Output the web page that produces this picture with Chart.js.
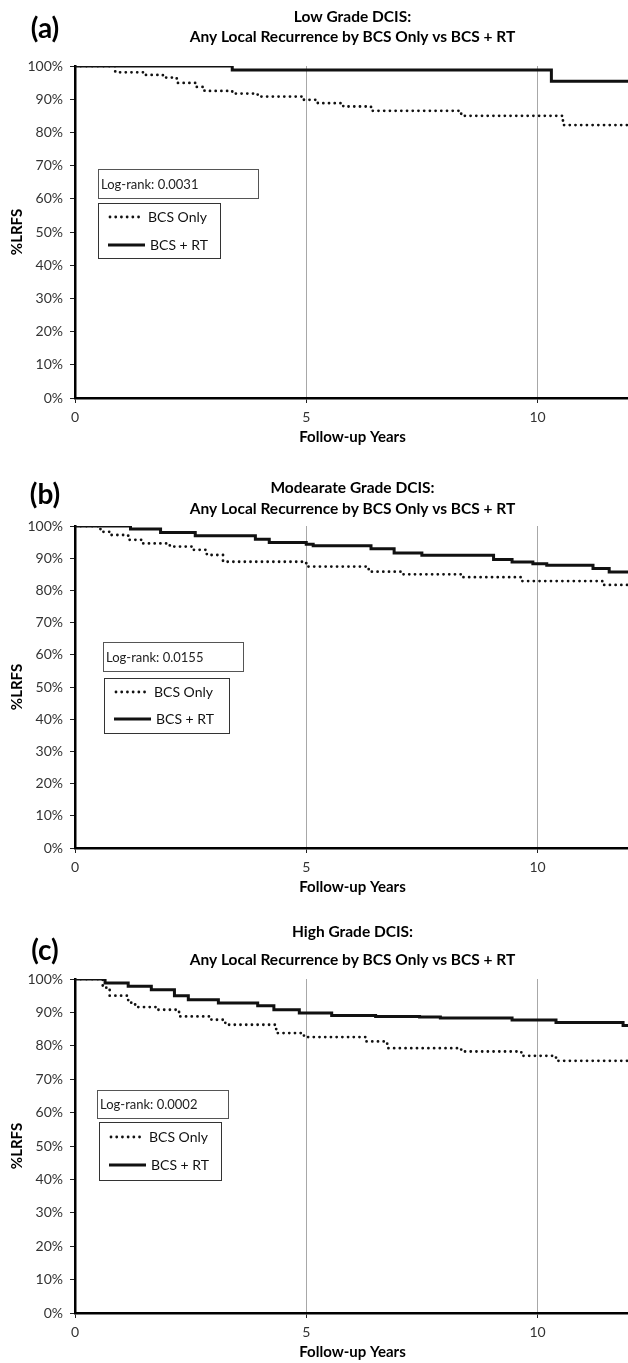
<!DOCTYPE html>
<html>
<head>
<meta charset="utf-8">
<script src="https://cdn.jsdelivr.net/npm/chart.js@4.4.1/dist/chart.umd.min.js"></script>
<style>
  html,body{margin:0;padding:0;background:#fff;overflow:hidden;width:628px;height:1363px;}
  .panel{position:absolute;left:0;}
  canvas{display:block;}
</style>
</head>
<body>
<div class="panel" style="top:0"><canvas id="chartA" width="630" height="450"></canvas></div>
<div class="panel" style="top:450px"><canvas id="chartB" width="630" height="450"></canvas></div>
<div class="panel" style="top:900px"><canvas id="chartC" width="630" height="463"></canvas></div>
<script>
// Kaplan-Meier step points (years, %LRFS)
// (a) Low grade
const lowOnlyX = [0, 0.87, 1.5, 1.9, 2.2, 2.6, 2.8, 3.4, 3.95, 4.95, 5.25, 5.8, 6.4, 8.35, 10.55, 12];
const lowOnlyY = [100, 98.1, 97.3, 96.5, 94.9, 93.7, 92.5, 91.7, 90.8, 89.8, 88.8, 87.8, 86.5, 85.0, 82.2, 82.2];
const lowRtX = [0, 3.4, 10.3, 12];
const lowRtY = [100, 98.8, 95.4, 95.4];
// (b) Moderate grade
const modOnlyX = [0, 0.55, 0.75, 1.15, 1.45, 2.05, 2.55, 2.85, 3.2, 5.0, 6.35, 7.05, 8.35, 9.65, 11.4, 12];
const modOnlyY = [100, 98.2, 97.2, 95.7, 94.6, 93.6, 92.6, 91.0, 88.9, 87.4, 85.8, 85.0, 84.1, 82.9, 81.7, 81.7];
const modRtX = [0, 1.2, 1.85, 2.6, 3.9, 4.2, 5.0, 5.15, 6.4, 6.9, 7.5, 9.05, 9.45, 9.9, 10.2, 11.2, 11.55, 12];
const modRtY = [100, 99.1, 98.0, 97.0, 95.9, 94.9, 94.3, 93.9, 92.9, 91.6, 90.9, 89.6, 88.8, 88.3, 87.8, 86.8, 85.7, 85.7];
// (c) High grade
const highOnlyX = [0, 0.6, 0.75, 1.15, 1.3, 1.75, 2.25, 2.95, 3.25, 4.35, 4.95, 6.3, 6.75, 8.35, 9.65, 10.4, 12];
const highOnlyY = [100, 97.4, 95.0, 92.9, 91.6, 90.8, 88.8, 87.8, 86.3, 83.8, 82.6, 81.3, 79.3, 78.3, 77.0, 75.5, 75.5];
const highRtX = [0, 0.65, 1.15, 1.65, 2.15, 2.45, 3.1, 3.95, 4.3, 4.85, 5.55, 6.5, 7.45, 7.9, 9.45, 10.4, 11.85, 12];
const highRtY = [100, 98.8, 97.8, 96.8, 95.0, 93.8, 92.8, 92.0, 90.8, 89.8, 89.1, 88.8, 88.6, 88.3, 87.7, 87.0, 86.1, 86.1];

const seriesNames = ['BCS Only', 'BCS + RT'];
const xTicks = [0, 5, 10];

Chart.defaults.font.family = 'Lato';
Chart.defaults.color = '#333';

const pts = (xs, ys) => xs.map((x, i) => ({x: x, y: ys[i]}));

// titles, panel tag, log-rank box and legend box
const panelText = {
  id: 'panelText',
  afterDraw(chart, args, o){
    const ctx = chart.ctx;
    const area = chart.chartArea;
    ctx.save();
    ctx.fillStyle = '#000';
    ctx.textBaseline = 'middle';
    ctx.textAlign = 'center';
    ctx.font = 'bold 28px Lato';
    ctx.fillText(o.tag, 45, o.tagY);
    ctx.font = 'bold 15.5px Lato';
    const cx = (area.left + area.right) / 2;
    o.title.forEach((t, i) => ctx.fillText(t, cx, o.titleY[i]));

    // log-rank box
    const lb = o.logBox;
    ctx.strokeStyle = '#555';
    ctx.lineWidth = 1;
    ctx.strokeRect(lb[0] + 0.5, lb[1] + 0.5, lb[2] - lb[0], lb[3] - lb[1]);
    ctx.textAlign = 'left';
    ctx.fillStyle = '#222';
    ctx.font = '13px Lato';
    ctx.fillText(o.logText, lb[0] + 3, (lb[1] + lb[3]) / 2 + 1);

    // legend box
    const g = o.legBox;
    ctx.strokeStyle = '#333';
    ctx.strokeRect(g[0] + 0.5, g[1] + 0.5, g[2] - g[0], g[3] - g[1]);
    ctx.font = '14px Lato';
    chart.data.datasets.forEach((ds, i) => {
      const y = o.legY[i];
      ctx.beginPath();
      ctx.strokeStyle = '#111';
      ctx.lineWidth = ds.borderWidth;
      ctx.lineCap = ds.borderCapStyle || 'butt';
      ctx.setLineDash(ds.borderDash || []);
      if (i === 0) { ctx.moveTo(g[0] + 12, y); ctx.lineTo(g[0] + 44, y); }
      else { ctx.moveTo(g[0] + 10, y); ctx.lineTo(g[0] + 47, y); }
      ctx.stroke();
      ctx.setLineDash([]);
      ctx.fillStyle = '#111';
      ctx.fillText(ds.label, g[0] + (i === 0 ? 50 : 52), y);
    });
    ctx.restore();
  }
};

function makeChart(id, onlyX, onlyY, rtX, rtY, padTop, padBottom, text){
  return new Chart(document.getElementById(id), {
    type: 'line',
    data: {
      datasets: [
        {
          label: seriesNames[0],
          data: pts(onlyX, onlyY),
          borderColor: '#111',
          borderWidth: 2.8,
          borderDash: [0.01, 5.7],
          borderCapStyle: 'round',
          stepped: 'before',
          pointRadius: 0,
          fill: false
        },
        {
          label: seriesNames[1],
          data: pts(rtX, rtY),
          borderColor: '#111',
          borderWidth: 3,
          stepped: 'before',
          pointRadius: 0,
          fill: false
        }
      ]
    },
    options: {
      responsive: false,
      animation: false,
      layout: {padding: {top: padTop, bottom: padBottom, left: 0, right: 0}},
      plugins: {
        legend: {display: false},
        title: {display: false},
        tooltip: {enabled: false},
        panelText: text
      },
      scales: {
        x: {
          type: 'linear',
          min: 0,
          max: 12,
          afterBuildTicks: s => { s.ticks = xTicks.map(v => ({value: v})); },
          afterFit: s => { s.height = 48; },
          ticks: {font: {size: 14}, color: '#333', padding: 6, maxRotation: 0},
          grid: {
            color: c => (c.tick && c.tick.value === 0) ? 'rgba(0,0,0,0)' : '#a8a8a8',
            lineWidth: 1,
            tickLength: 5,
            tickColor: '#222'
          },
          border: {color: '#000', width: 2.5},
          title: {display: true, text: 'Follow-up Years', color: '#000',
                  font: {size: 15, weight: 'bold'}, padding: {top: 0, bottom: 0}}
        },
        y: {
          min: 0,
          max: 100,
          afterFit: s => { s.width = 75; },
          ticks: {stepSize: 10, font: {size: 14}, color: '#333', padding: 7,
                  callback: v => v + '%'},
          grid: {drawOnChartArea: false, tickLength: 5, tickColor: '#222'},
          border: {color: '#000', width: 2.5},
          title: {display: true, text: '%LRFS', color: '#000',
                  font: {size: 15, weight: 'bold'}, padding: {top: 8, bottom: 0}}
        }
      }
    },
    plugins: [panelText]
  });
}

makeChart('chartA', lowOnlyX, lowOnlyY, lowRtX, lowRtY, 66, 4, {
  tag: '(a)', tagY: 29,
  title: ['Low Grade DCIS:', 'Any Local Recurrence by BCS Only vs BCS + RT'], titleY: [17, 37],
  logText: 'Log-rank: 0.0031', logBox: [98, 169, 258, 198],
  legBox: [98, 203, 220, 258], legY: [217, 245]
});

makeChart('chartB', modOnlyX, modOnlyY, modRtX, modRtY, 76, 4, {
  tag: '(b)', tagY: 45,
  title: ['Modearate Grade DCIS:', 'Any Local Recurrence by BCS Only vs BCS + RT'], titleY: [38, 59],
  logText: 'Log-rank: 0.0155', logBox: [103, 192, 243, 221],
  legBox: [104, 228, 229, 283], legY: [242, 269]
});

makeChart('chartC', highOnlyX, highOnlyY, highRtX, highRtY, 79, 2, {
  tag: '(c)', tagY: 51,
  title: ['High Grade DCIS:', 'Any Local Recurrence by BCS Only vs BCS + RT'], titleY: [32, 60],
  logText: 'Log-rank: 0.0002', logBox: [97, 190, 228, 218],
  legBox: [99, 222, 221, 280], legY: [237, 265]
});
</script>
</body>
</html>
